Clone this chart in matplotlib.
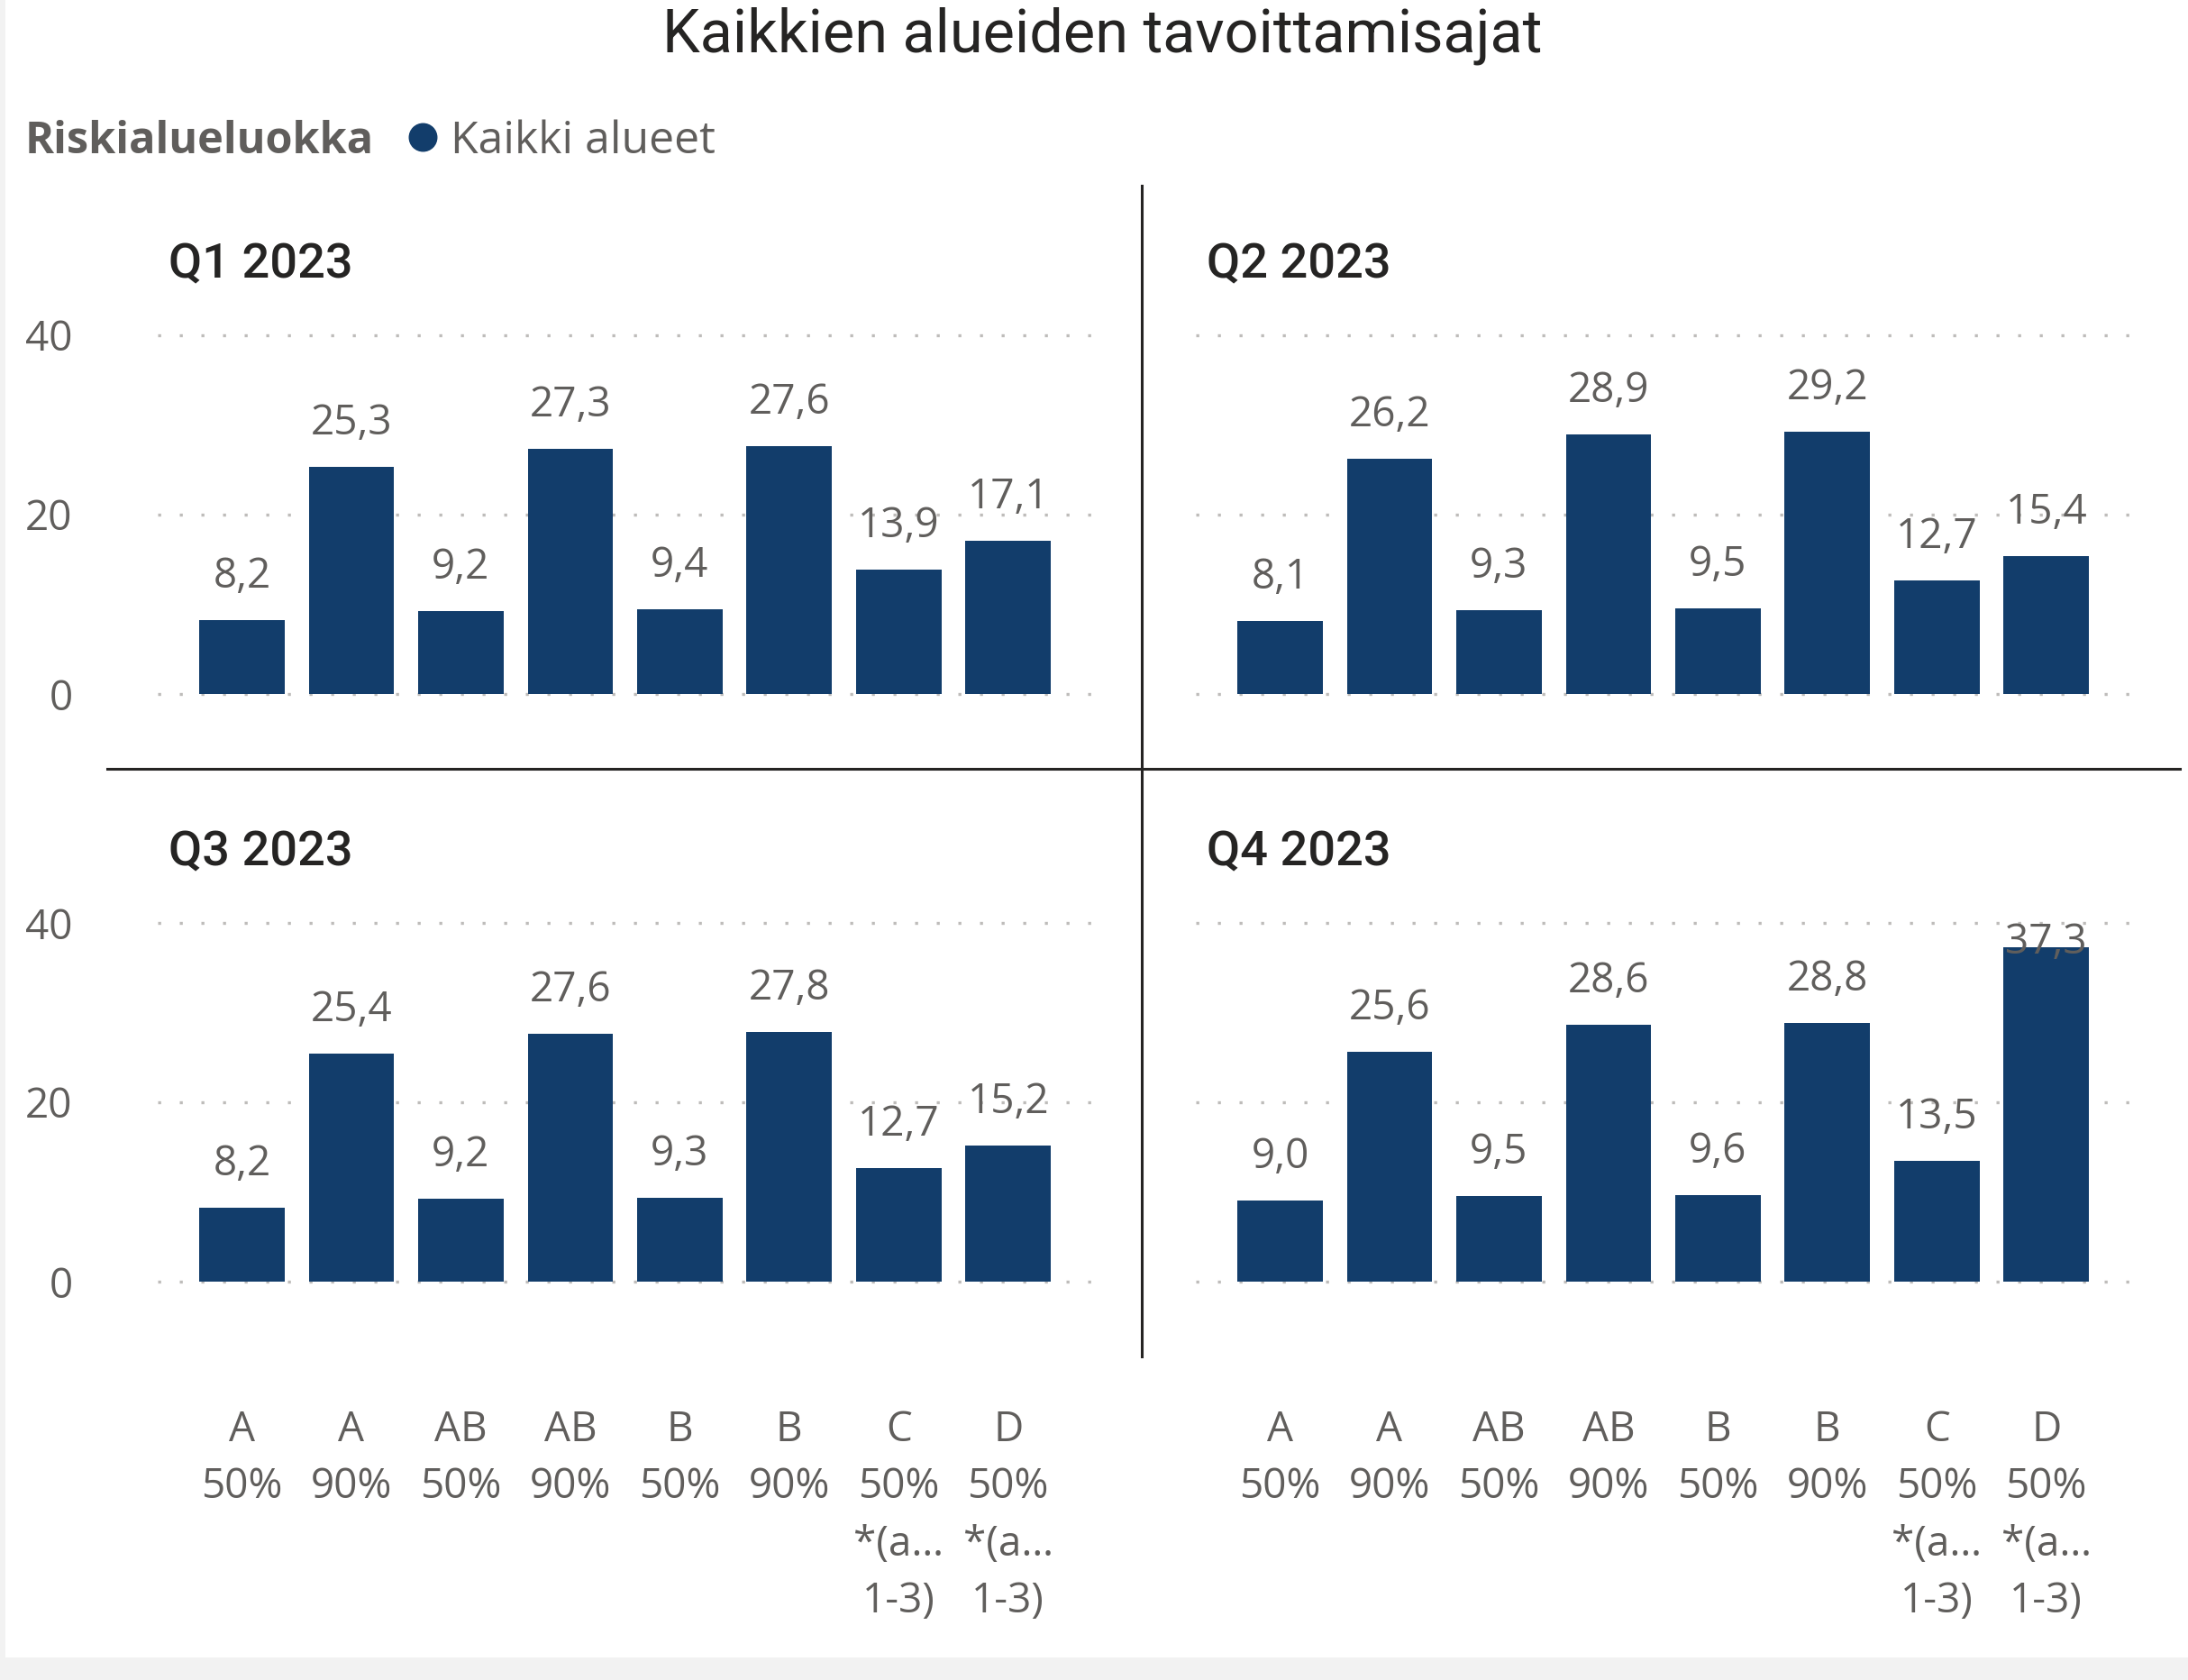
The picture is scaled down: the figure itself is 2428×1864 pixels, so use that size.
import matplotlib
matplotlib.use('Agg')
import matplotlib.pyplot as plt
from matplotlib.patches import Rectangle
from matplotlib.lines import Line2D

# ---------------- data ----------------
title = "Kaikkien alueiden tavoittamisajat"
legend_title = "Riskialueluokka"
series_name = "Kaikki alueet"
categories = ["A\n50%", "A\n90%", "AB\n50%", "AB\n90%", "B\n50%", "B\n90%",
              "C\n50%\n*(a…\n1-3)", "D\n50%\n*(a…\n1-3)"]
quarters = ["Q1 2023", "Q2 2023", "Q3 2023", "Q4 2023"]
q1_values = [8.2, 25.3, 9.2, 27.3, 9.4, 27.6, 13.9, 17.1]
q2_values = [8.1, 26.2, 9.3, 28.9, 9.5, 29.2, 12.7, 15.4]
q3_values = [8.2, 25.4, 9.2, 27.6, 9.3, 27.8, 12.7, 15.2]
q4_values = [9.0, 25.6, 9.5, 28.6, 9.6, 28.8, 13.5, 37.3]
y_ticks = [0, 20, 40]

# ---------------- style ----------------
W, H = 2428, 1864
BAR = '#123D6B'
GRAY = '#605E5C'
DARK = '#252423'
GRID = '#BEBCBA'
LABEL_FONT = ['Open Sans', 'DejaVu Sans']
HEAD_FONT = ['Roboto', 'DejaVu Sans']

fig = plt.figure(figsize=(W / 100, H / 100), dpi=100, facecolor='#F2F2F2')
fig.patches.append(Rectangle((6 / W, 25 / H), 1 - 6 / W, 1 - 25 / H,
                             transform=fig.transFigure, facecolor='white',
                             edgecolor='none', zorder=-10))

def fx(px):
    return px / W

def fy(py):
    return 1 - py / H

# axes geometry (pixels)
cols = [(175, 1211), (1327, 2363)]
rows = [(372, 770), (1024, 1422)]
all_values = [q1_values, q2_values, q3_values, q4_values]
x = list(range(len(categories)))

for k, (vals, qname) in enumerate(zip(all_values, quarters)):
    r, c = divmod(k, 2)
    x0, x1 = cols[c]
    ytop, ybot = rows[r]
    ax = fig.add_axes([fx(x0), fy(ybot), (x1 - x0) / W, (ybot - ytop) / H])
    ax.set_facecolor('none')
    ax.bar(x, vals, width=0.78, color=BAR, zorder=3)
    ax.set_xlim(-0.77, len(categories) - 1 + 0.76)
    ax.set_ylim(0, 40)
    for s in ax.spines.values():
        s.set_visible(False)
    ax.set_yticks(y_ticks)
    ax.yaxis.grid(True, color=GRID, linewidth=2.4, linestyle=(0, (1, 6.2)),
                  dash_capstyle='butt')
    for gl in ax.get_ygridlines():
        gl.set_clip_on(False)
    ax.set_axisbelow(True)
    ax.tick_params(axis='both', length=0)
    if c == 0:
        ax.set_yticklabels([str(t) for t in y_ticks], fontsize=33, color=GRAY,
                           family=LABEL_FONT)
        ax.tick_params(axis='y', pad=68)
    else:
        ax.set_yticklabels([])
    ax.set_xticks(x)
    if r == 1:
        ax.set_xticklabels(categories, fontsize=33, color=GRAY,
                           family=LABEL_FONT, linespacing=1.5)
        ax.tick_params(axis='x', pad=102)
    else:
        ax.set_xticklabels([])

    px_per_unit = ax.bbox.height / 40.0
    for i, v in enumerate(vals):
        lbl = f"{v:.1f}".replace('.', ',')
        if v * px_per_unit + 36 + 34 > ax.bbox.height:
            ax.annotate(lbl, (i, 40), xytext=(0, -34 * 0.72),
                        textcoords='offset points', ha='center',
                        va='baseline', fontsize=33, color=GRAY,
                        family=LABEL_FONT, zorder=5, annotation_clip=False)
        else:
            ax.annotate(lbl, (i, v), xytext=(0, 36 * 0.72),
                        textcoords='offset points', ha='center',
                        va='baseline', fontsize=33, color=GRAY,
                        family=LABEL_FONT, zorder=5, annotation_clip=False)

    # panel title
    tx = 187 if c == 0 else 1339
    tyb = 308 if r == 0 else 960
    fig.text(fx(tx), fy(tyb), qname, fontsize=39, color=DARK,
             family=HEAD_FONT, fontweight='medium', va='baseline', ha='left')

# main title
fig.text(fx(1223), fy(58), title, fontsize=48, color=DARK,
         family=HEAD_FONT, ha='center', va='baseline')

# legend
fig.text(fx(28), fy(170), legend_title, fontsize=35, color=GRAY,
         family=LABEL_FONT, fontweight='bold', ha='left', va='baseline')
fig.add_artist(Line2D([fx(469)], [fy(152)], marker='o', markersize=22,
                      color=BAR, linestyle='none', transform=fig.transFigure))
fig.text(fx(500), fy(170), series_name, fontsize=36, color=GRAY,
         family=LABEL_FONT, ha='left', va='baseline')

# divider lines
fig.add_artist(Line2D([fx(1267), fx(1267)], [fy(206), fy(1505)],
                      color=DARK, linewidth=2.2, transform=fig.transFigure))
fig.add_artist(Line2D([fx(119), fx(2419)], [fy(853), fy(853)],
                      color=DARK, linewidth=2.2, transform=fig.transFigure))

fig.savefig('out.png', dpi=100, facecolor=fig.get_facecolor())
